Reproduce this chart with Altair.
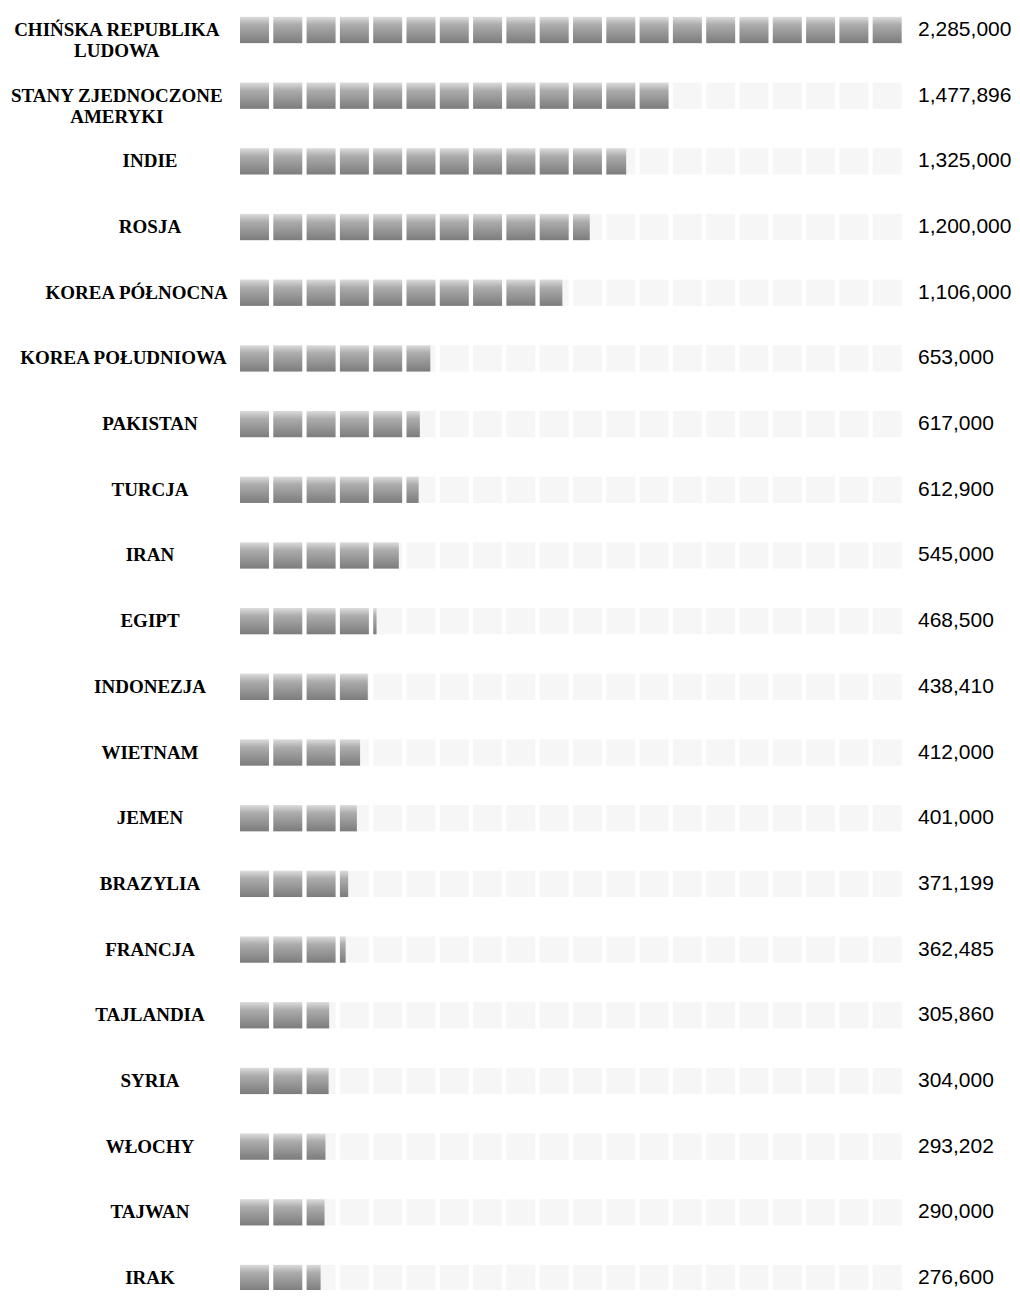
import altair as alt
import pandas as pd

# ---- data ----
countries = [
    "CHIŃSKA REPUBLIKA LUDOWA", "STANY ZJEDNOCZONE AMERYKI", "INDIE", "ROSJA",
    "KOREA PÓŁNOCNA", "KOREA POŁUDNIOWA", "PAKISTAN", "TURCJA", "IRAN", "EGIPT",
    "INDONEZJA", "WIETNAM", "JEMEN", "BRAZYLIA", "FRANCJA", "TAJLANDIA", "SYRIA",
    "WŁOCHY", "TAJWAN", "IRAK",
]
label_lines = [
    "CHIŃSKA REPUBLIKA\nLUDOWA", "STANY ZJEDNOCZONE\nAMERYKI", "INDIE", "ROSJA",
    "KOREA PÓŁNOCNA", "KOREA POŁUDNIOWA", "PAKISTAN", "TURCJA", "IRAN", "EGIPT",
    "INDONEZJA", "WIETNAM", "JEMEN", "BRAZYLIA", "FRANCJA", "TAJLANDIA", "SYRIA",
    "WŁOCHY", "TAJWAN", "IRAK",
]
values = [
    2285000, 1477896, 1325000, 1200000, 1106000, 653000, 617000, 612900, 545000,
    468500, 438410, 412000, 401000, 371199, 362485, 305860, 304000, 293202,
    290000, 276600,
]

N_ICONS = 20
UNIT = max(values) / N_ICONS      # value represented by one icon
ICON_W = 0.87                      # icon width as a share of its slot

# ---- tables built from the arrays ----
rows = []
for k, v in enumerate(values):
    for i in range(N_ICONS):
        f = min(max(v / UNIT - i, 0.0), ICON_W)
        rows.append(dict(idx=k, slot=i, track_end=i + ICON_W, fill_end=i + f,
                         y_top=k - 0.2, y_bot=k + 0.2))
icons = pd.DataFrame(rows)

X0, STEP = 232.0, 33.3  # pixel start of the icon area and slot step


def label_slot(lbl):
    longest = max(len(s) for s in lbl.split("\n"))
    px = min(142.0, 221.0 - 6.6 * longest)
    return (px - X0) / STEP


labels_df = pd.DataFrame({
    "idx": list(range(len(countries))),
    "country": countries,
    "label": label_lines,
    "lx": [label_slot(l) for l in label_lines],
    "value": values,
})

xs = alt.Scale(domain=[0, N_ICONS], range=[X0, X0 + STEP * N_ICONS], zero=False, nice=False)
ys = alt.Scale(domain=[0, len(countries) - 1], range=[22, 1270], zero=False, nice=False)

track = alt.Chart(icons).mark_rect(color="#f6f6f6").encode(
    x=alt.X("slot:Q", scale=xs, axis=None),
    x2="track_end:Q",
    y=alt.Y("y_top:Q", scale=ys, axis=None),
    y2="y_bot:Q",
)

grad = alt.Gradient(
    gradient="linear",
    stops=[
        alt.GradientStop(color="#dcdcdc", offset=0),
        alt.GradientStop(color="#acacac", offset=0.3),
        alt.GradientStop(color="#7c7c7c", offset=1),
    ],
    x1=0, x2=0, y1=0, y2=1,
)

filled = alt.Chart(icons).transform_filter("datum.fill_end > datum.slot").mark_rect(
    color=grad
).encode(
    x=alt.X("slot:Q", scale=xs, axis=None),
    x2="fill_end:Q",
    y=alt.Y("y_top:Q", scale=ys, axis=None),
    y2="y_bot:Q",
)

names = alt.Chart(labels_df).mark_text(
    font="Liberation Serif", fontWeight="bold", fontSize=19, lineBreak="\n",
    lineHeight=21, align="center", baseline="middle", color="#000000",
).encode(
    x=alt.X("lx:Q", scale=xs, axis=None),
    y=alt.Y("idx:Q", scale=ys, axis=None),
    text="label:N",
)

nums = alt.Chart(labels_df).mark_text(
    font="Liberation Sans", fontSize=21, align="left", baseline="middle", color="#000000",
).encode(
    x=alt.value(910),
    y=alt.Y("idx:Q", scale=ys, axis=None),
    text=alt.Text("value:Q", format=",d"),
)

chart = alt.layer(track, filled, names, nums).properties(
    width=1004, height=1282, padding=0, autosize="none", background="white"
).configure_view(stroke=None)

chart.save("out.html", embed_options={"renderer": "svg", "actions": False})
